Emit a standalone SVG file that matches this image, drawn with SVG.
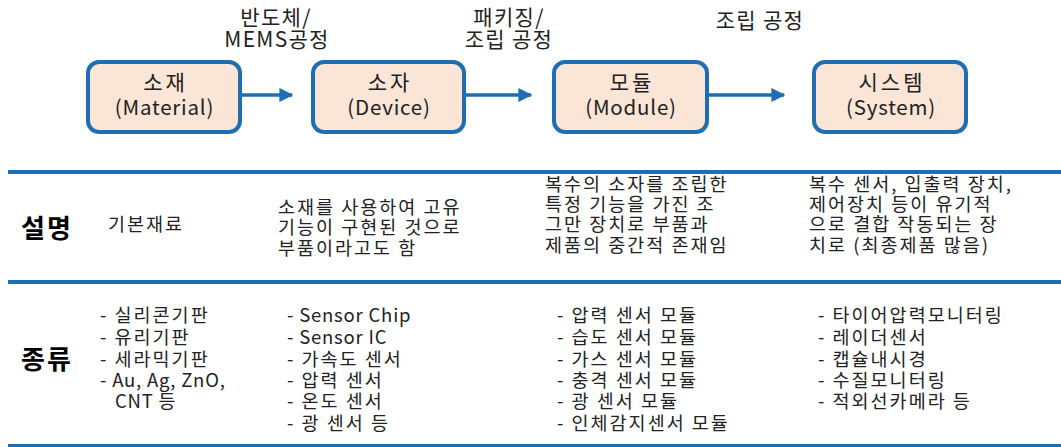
<svg xmlns="http://www.w3.org/2000/svg" width="1061" height="447" viewBox="0 0 1061 447">
<defs>
<style>
.t{font-family:"Malgun Gothic","Noto Sans CJK KR","Noto Sans",sans-serif;fill:#222;}
.box{fill:#fbe5d6;stroke:#1f6eb4;stroke-width:4;}
.bk{font-size:21px;text-anchor:middle;letter-spacing:3px;}
.bl{font-size:20.5px;text-anchor:middle;letter-spacing:0.8px;}
.lab{font-size:21px;text-anchor:middle;letter-spacing:1.3px;}
.cell{font-size:18.5px;letter-spacing:2px;}
.lat{letter-spacing:0.8px;}
.hd{font-size:26px;font-weight:bold;fill:#000;letter-spacing:2px;}
.rule{stroke:#1f6eb4;stroke-width:4;}
.con{stroke:#1f6eb4;stroke-width:3.5;fill:none;marker-end:url(#ah);}
</style>
<marker id="ah" viewBox="0 0 10 10" refX="9" refY="5" markerWidth="4" markerHeight="4" markerUnits="strokeWidth" orient="auto">
<path d="M0,0 L10,5 L0,10 z" fill="#1f6eb4"/>
</marker>
</defs>
<rect width="1061" height="447" fill="#fff"/>
<g id="connectors">
<line class="con" x1="242" y1="95" x2="292" y2="95"/>
<line class="con" x1="466" y1="95" x2="531" y2="95"/>
<line class="con" x1="709" y1="95" x2="784" y2="95"/>
</g>
<g id="labels">
<text class="t lab"><tspan x="276" y="25">반도체/</tspan><tspan x="277" y="47">MEMS공정</tspan></text>
<text class="t lab"><tspan x="509" y="25">패키징/</tspan><tspan x="509" y="47">조립 공정</tspan></text>
<text class="t lab" x="760" y="28">조립 공정</text>
</g>
<g id="node-material">
<rect class="box" x="88" y="62" width="152" height="70" rx="11"/>
<text class="t bk" x="165.5" y="90">소재</text>
<text class="t bl" x="164.5" y="115">(Material)</text>
</g>
<g id="node-device">
<rect class="box" x="313" y="62" width="151" height="70" rx="11"/>
<text class="t bk" x="390" y="90">소자</text>
<text class="t bl" x="389" y="115">(Device)</text>
</g>
<g id="node-module">
<rect class="box" x="554" y="62" width="153" height="70" rx="11"/>
<text class="t bk" x="632" y="90">모듈</text>
<text class="t bl" x="631" y="115">(Module)</text>
</g>
<g id="node-system">
<rect class="box" x="814" y="62" width="152" height="70" rx="11"/>
<text class="t bk" x="892" y="90">시스템</text>
<text class="t bl" x="891" y="115">(System)</text>
</g>
<g id="table-rules">
<line class="rule" x1="8" y1="172" x2="1061" y2="172"/>
<line class="rule" x1="8" y1="282" x2="1061" y2="282"/>
<line class="rule" x1="8" y1="446" x2="1061" y2="446"/>
</g>
<g id="row-description">
<text class="t hd" x="21" y="238">설명</text>
<text class="t cell" x="108" y="231">기본재료</text>
<text class="t cell"><tspan x="278" y="214">소재를 사용하여 고유</tspan><tspan x="278" y="234">기능이 구현된 것으로</tspan><tspan x="278" y="255">부품이라고도 함</tspan></text>
<text class="t cell"><tspan x="545" y="191">복수의 소자를 조립한</tspan><tspan x="545" y="211">특정 기능을 가진 조</tspan><tspan x="545" y="231">그만 장치로 부품과</tspan><tspan x="545" y="252">제품의 중간적 존재임</tspan></text>
<text class="t cell"><tspan x="809" y="191">복수 센서, 입출력 장치,</tspan><tspan x="809" y="211">제어장치 등이 유기적</tspan><tspan x="809" y="231">으로 결합 작동되는 장</tspan><tspan x="809" y="252">치로 (최종제품 많음)</tspan></text>
</g>
<g id="row-types">
<text class="t hd" x="21" y="369">종류</text>
<text class="t cell"><tspan x="100" y="322">- 실리콘기판</tspan><tspan x="100" y="344">- 유리기판</tspan><tspan x="100" y="366">- 세라믹기판</tspan><tspan class="lat" x="100" y="387">- Au, Ag, ZnO,</tspan><tspan class="lat" x="115" y="408">CNT 등</tspan></text>
<text class="t cell"><tspan class="lat" x="287" y="322">- Sensor Chip</tspan><tspan class="lat" x="287" y="344">- Sensor IC</tspan><tspan x="287" y="366">- 가속도 센서</tspan><tspan x="287" y="387">- 압력 센서</tspan><tspan x="287" y="408">- 온도 센서</tspan><tspan x="287" y="430">- 광 센서  등</tspan></text>
<text class="t cell"><tspan x="557" y="322">- 압력 센서 모듈</tspan><tspan x="557" y="344">- 습도 센서 모듈</tspan><tspan x="557" y="366">- 가스 센서 모듈</tspan><tspan x="557" y="387">- 충격 센서 모듈</tspan><tspan x="557" y="408">- 광 센서 모듈</tspan><tspan x="557" y="430">- 인체감지센서 모듈</tspan></text>
<text class="t cell"><tspan x="818" y="322">- 타이어압력모니터링</tspan><tspan x="818" y="344">- 레이더센서</tspan><tspan x="818" y="366">- 캡슐내시경</tspan><tspan x="818" y="387">- 수질모니터링</tspan><tspan x="818" y="408">- 적외선카메라 등</tspan></text>
</g>
</svg>
